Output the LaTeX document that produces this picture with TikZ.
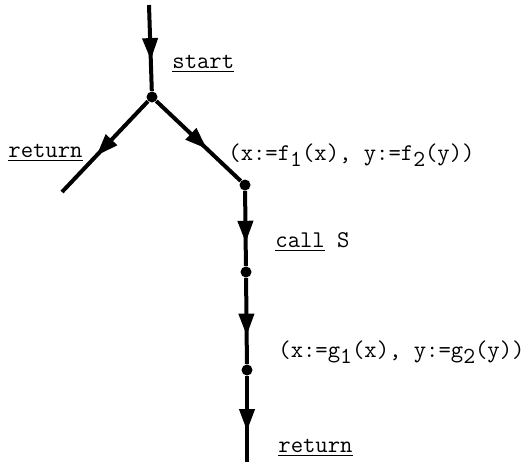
\documentclass[tikz,border=0pt]{standalone}
\usepackage{fontspec}
\usetikzlibrary{arrows.meta,decorations.markings}

\newcommand{\idx}[1]{\raisebox{-0.6ex}{\fontsize{11.5}{12}\selectfont #1}}

\begin{document}
\begin{tikzpicture}[x=0.5pt, y=-0.5pt,
      font=\ttfamily\fontsize{12}{14}\selectfont,
      dot/.style={circle, fill, inner sep=0pt, minimum size=5.5pt},
      flow/.style={line width=2pt, postaction={decorate},
        decoration={markings, mark=at position #1 with
          {\arrow{Triangle[length=11pt, width=7.5pt]}}}},
      flow/.default=0.65,
      lbl/.style={anchor=base west, inner sep=0pt}]
      \useasboundingbox (0,0) rectangle (529,466);

      % program points
      \coordinate (top) at (149,5);
      \node[dot] (fork) at (152,97) {};
      \coordinate (out) at (62,192);
      \node[dot] (j1) at (245,185) {};
      \node[dot] (j2) at (246,272) {};
      \node[dot] (j3) at (247,370) {};
      \coordinate (bot) at (247,462);

      \draw[flow=0.64] (top) -- (fork);
      \draw[flow=0.6] (fork) -- (out);
      \draw[flow=0.6] (fork) -- (j1);
      \draw[flow=0.69] (j1) -- (j2);
      \draw[flow=0.67] (j2) -- (j3);
      \draw[flow=0.64] (j3) -- (bot);

      % labels
      \node[lbl] (lstart) at (172,68) {\underline{start}};
      \node[lbl] (lret1) at (8,157) {\underline{return}};
      \node[lbl] (lf) at (228,160) {(x:=f\idx{1}(x), y:=f\idx{2}(y))};
      \node[lbl] (lcall) at (275,247) {\underline{call} S};
      \node[lbl] (lg) at (278,357) {(x:=g\idx{1}(x), y:=g\idx{2}(y))};
      \node[lbl] (lret2) at (278,452) {\underline{return}};
    \end{tikzpicture}
\end{document}
